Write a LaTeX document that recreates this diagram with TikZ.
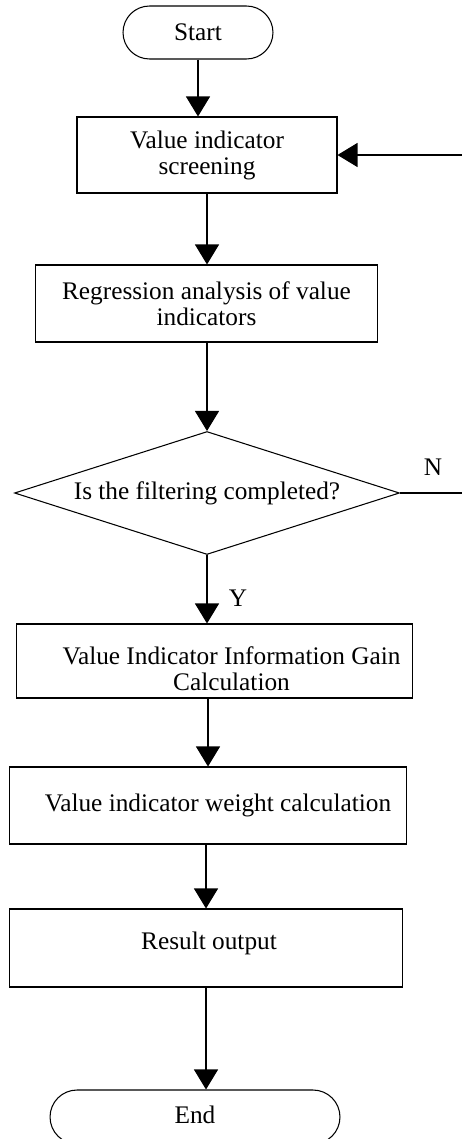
\documentclass[tikz,border=0pt]{standalone}
\usepackage{fontspec}
\setmainfont{Liberation Serif}
\usepackage{tikz}
\usetikzlibrary{arrows.meta,positioning,shapes.geometric}
\tikzset{
  procbox/.style={rectangle, draw=black, line width=0.6pt, align=center,
                  font=\fontsize{14.4}{14.8}\selectfont, inner sep=0pt},
  termbox/.style={rectangle, rounded corners=0.53cm, draw=black, line width=0.6pt,
                  font=\fontsize{14.4}{14.8}\selectfont, inner sep=0pt},
  decbox/.style={diamond, aspect=3.13, draw=black, line width=0.6pt, inner sep=0pt,
                 font=\fontsize{14.4}{14.8}\selectfont},
  txt/.style={align=center, font=\fontsize{14.4}{14.8}\selectfont, inner sep=0pt},
  arr/.style={-{Triangle[length=0.4cm, width=0.48cm]}, line width=0.6pt, draw=black},
}
\begin{document}
\begin{tikzpicture}[x=0.02cm, y=-0.02cm]
    \useasboundingbox (0,0) rectangle (462,1139);
    \node[termbox, minimum width=3cm, minimum height=1.06cm] (start) at (198,32.5) {Start};
    \node[procbox, minimum width=5.2cm, minimum height=1.52cm] (screen) at (207,155) {Value indicator\\screening};
    \node[procbox, minimum width=6.86cm, minimum height=1.54cm] (regress) at (206.5,303.5) {Regression analysis of value\\indicators};
    \node[decbox, minimum width=7.7cm, minimum height=2.46cm] (decide) at (207,493) {Is the filtering completed?};
    \node[procbox, minimum width=7.94cm, minimum height=1.48cm] (gain) at (214.5,661) {};
    \node[txt] (gaintxt) at ([xshift=0.34cm, yshift=-0.16cm]gain.center) {Value Indicator Information Gain\\Calculation};
    \node[procbox, minimum width=7.96cm, minimum height=1.54cm] (weight) at (208,805.5) {};
    \node[txt] (weighttxt) at ([xshift=0.2cm]weight.center) {Value indicator weight calculation};
    \node[procbox, minimum width=7.88cm, minimum height=1.56cm] (result) at (206,948) {};
    \node[txt] (resulttxt) at ([xshift=0.06cm, yshift=0.1cm]result.center) {Result output};
    \node[termbox, rounded corners=0.54cm, minimum width=5.8cm, minimum height=1.08cm] (finish) at (195,1117) {};
    \node[txt] (finishtxt) at (195,1115) {End};
    \node[txt] (no) at (433,467) {N};
    \node[txt] (yes) at (238,598) {Y};
    \coordinate (back) at (485,300);
    % main flow
    \draw[arr] (start.south) -- (start.south |- screen.north);
    \draw[arr] (screen.south) -- (screen.south |- regress.north);
    \draw[arr] (decide.north |- regress.south) -- (decide.north);
    \draw[arr] (decide.south) -- (decide.south |- gain.north);
    \draw[arr] (weight.north |- gain.south) -- (weight.north);
    \draw[arr] (result.north |- weight.south) -- (result.north);
    \draw[arr] (result.south) -- (result.south |- finish.north);
    % loop back when not done
    \draw[arr] (decide.east) -- (decide.east -| back) |- (screen.east);
  \end{tikzpicture}
\end{document}
